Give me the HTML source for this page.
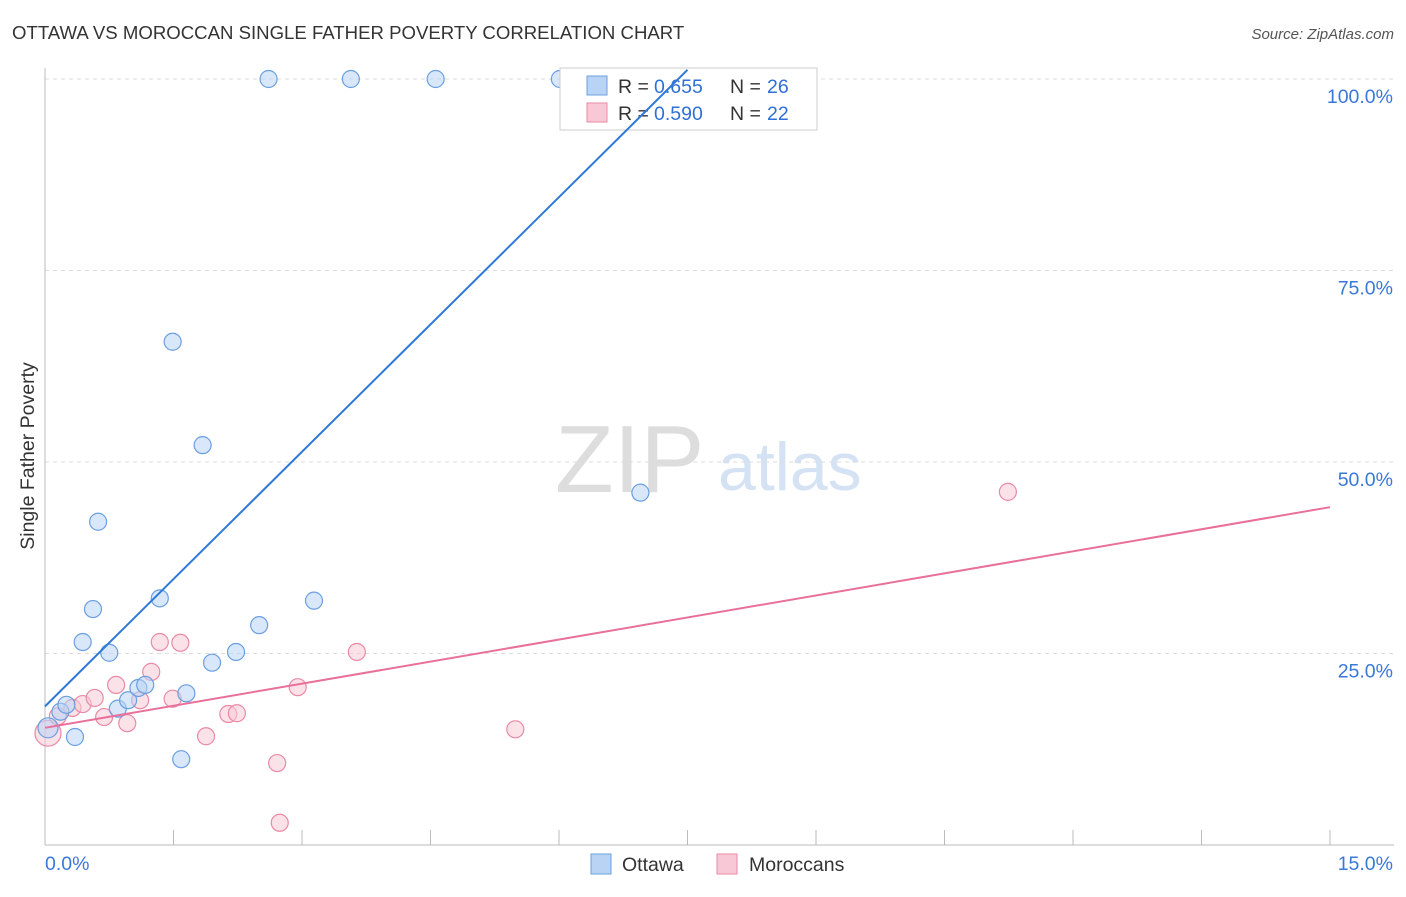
<!DOCTYPE html>
<html><head><meta charset="utf-8"><style>
body{margin:0;background:#fff;font-family:"Liberation Sans",sans-serif;}
svg text{font-family:"Liberation Sans",sans-serif;}
</style></head><body>
<svg width="1406" height="892" xmlns="http://www.w3.org/2000/svg">
<text x="12" y="39" font-size="18.6" fill="#333">OTTAWA VS MOROCCAN SINGLE FATHER POVERTY CORRELATION CHART</text>
<text x="1394" y="39" font-size="15" fill="#555" font-style="italic" text-anchor="end">Source: ZipAtlas.com</text>
<text x="34" y="456" font-size="19.5" fill="#333" text-anchor="middle" transform="rotate(-90 34 456)">Single Father Poverty</text>
<text x="555" y="492" font-size="96" fill="#ddd" font-family="Liberation Serif">ZIP</text>
<text x="718" y="490" font-size="68" fill="#d4e2f4">atlas</text>
<g id="grid"></g><g id="axes"></g><g id="pts"></g>
<g>
<rect x="560" y="68" width="257" height="62" fill="#fff" stroke="#ccc"/>
<rect x="587" y="76" width="20" height="19" fill="#b8d3f4" stroke="#6a9fe0"/>
<text x="618" y="93" font-size="19.5" fill="#333">R =</text>
<text x="654" y="93" font-size="19.5" fill="#2f6fd6">0.655</text>
<text x="730" y="93" font-size="19.5" fill="#333">N =</text>
<text x="767" y="93" font-size="19.5" fill="#2f6fd6">26</text>
<rect x="587" y="103" width="20" height="19" fill="#f8c8d6" stroke="#e88aa6"/>
<text x="618" y="120" font-size="19.5" fill="#333">R =</text>
<text x="654" y="120" font-size="19.5" fill="#2f6fd6">0.590</text>
<text x="730" y="120" font-size="19.5" fill="#333">N =</text>
<text x="767" y="120" font-size="19.5" fill="#2f6fd6">22</text>
</g>
<g id="lines"></g>
<g>
<rect x="591" y="854" width="20" height="20" fill="#b8d3f4" stroke="#6a9fe0"/>
<text x="622" y="871" font-size="19.5" fill="#333">Ottawa</text>
<rect x="717" y="854" width="20" height="20" fill="#f8c8d6" stroke="#e88aa6"/>
<text x="749" y="871" font-size="19.5" fill="#333">Moroccans</text>
</g>
</svg>
<script>
const ottawaX=[0.035,0.18,0.25,0.35,0.44,0.56,0.62,0.75,0.85,0.97,1.09,1.17,1.34,1.49,1.59,1.65,1.84,1.95,2.23,2.50,2.61,3.14,3.57,4.56,6.01,6.95];
const ottawaY=[15.3,17.4,18.3,14.1,26.5,30.8,42.2,25.1,17.8,18.9,20.5,20.9,32.2,65.7,11.2,19.8,52.2,23.8,25.2,28.7,100,31.9,100,100,100,46.0];
const morX=[0.035,0.15,0.32,0.44,0.58,0.69,0.83,0.96,1.11,1.24,1.34,1.49,1.58,1.88,2.14,2.24,2.71,2.74,2.95,3.64,5.49,11.24];
const morY=[14.6,16.8,17.9,18.4,19.2,16.7,20.9,15.9,18.9,22.6,26.5,19.1,26.4,14.2,17.1,17.2,10.7,2.9,20.6,25.2,15.1,46.1];
const ottawaLineX=[0,7.5];const ottawaLineY=[18.1,101.2];
const morLineX=[0,15];const morLineY=[15.3,44.1];
const yTicks=[25,50,75,100];const yTickLabels=["25.0%","50.0%","75.0%","100.0%"];
const xTicks=[0,1.5,3,4.5,6,7.5,9,10.5,12,13.5,15];
const NS="http://www.w3.org/2000/svg";
const sx=v=>45+v/15*1285, sy=v=>845-v*7.66;
function mk(p,t,a){const e=document.createElementNS(NS,t);for(const k in a)e.setAttribute(k,a[k]);document.getElementById(p).appendChild(e);return e;}
yTicks.forEach((v,i)=>{
 const l=mk('grid','line',{x1:45,x2:1394,y1:sy(v),y2:sy(v),stroke:'#ddd','stroke-dasharray':'4,4'});
 
 
 const t=mk('grid','text',{x:1393,y:sy(v)+24,'font-size':19.5,fill:'#3a78d8','text-anchor':'end'});t.textContent=yTickLabels[i];
 
 
});
const ax=mk('axes','line',{x1:45,x2:1394,y1:845,y2:845,stroke:'#bbb'});


const ay=mk('axes','line',{x1:45,x2:45,y1:68,y2:845,stroke:'#bbb'});


xTicks.forEach(v=>{const t=mk('axes','line',{x1:sx(v),x2:sx(v),y1:830,y2:845,stroke:'#bbb'});
 
 });
const x0=mk('axes','text',{x:45,y:870,'font-size':19.5,fill:'#3a78d8'});x0.textContent='0.0%';


const x1=mk('axes','text',{x:1393,y:870,'font-size':19.5,fill:'#3a78d8','text-anchor':'end'});x1.textContent='15.0%';


function dots(X,Y,f,s,name){X.forEach((x,i)=>{const c=mk('pts','circle',{cx:sx(x),cy:sy(Y[i]),r:(i===0?(name==='moroccan-point'?13:10):8.5),fill:f,'fill-opacity':0.55,stroke:s,'stroke-width':1.2});
 
 });}
dots(morX,morY,'#f8c8d6','#e88aa6','moroccan-point');
dots(ottawaX,ottawaY,'#b8d3f4','#6a9fe0','ottawa-point');
const bl=mk('lines','line',{x1:sx(ottawaLineX[0]),y1:sy(ottawaLineY[0]),x2:sx(ottawaLineX[1]),y2:sy(ottawaLineY[1]),stroke:'#2e78d8','stroke-width':2});


const pl=mk('lines','line',{x1:sx(morLineX[0]),y1:sy(morLineY[0]),x2:sx(morLineX[1]),y2:sy(morLineY[1]),stroke:'#e8709a','stroke-width':2});


</script>
</body></html>
